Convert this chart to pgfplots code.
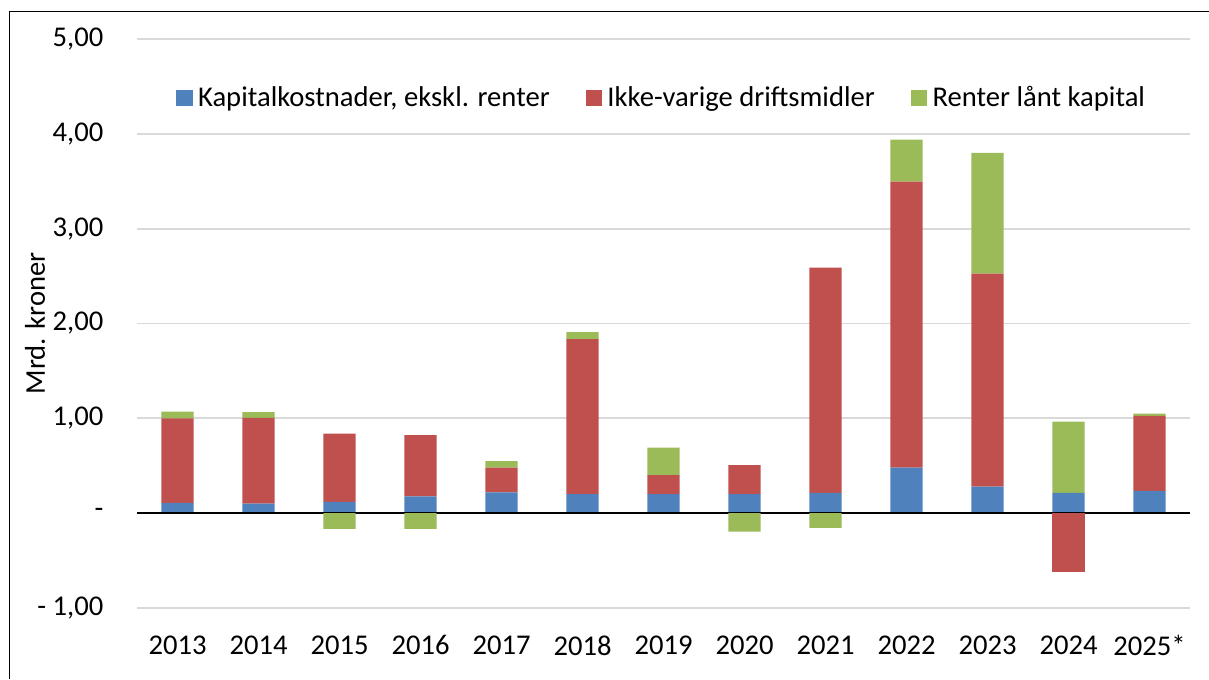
\documentclass[border=0pt]{standalone}
\usepackage{fontspec}
\setmainfont{Carlito}
\usepackage{pgfplots}
\usepackage{pgfplotstable}
\pgfplotsset{compat=1.18}
\definecolor{cblue}{HTML}{4F81BD}
\definecolor{cred}{HTML}{C0504D}
\definecolor{cgreen}{HTML}{9BBB59}
\definecolor{cgrid}{HTML}{D9D9D9}

\pgfplotstableread{
x blue  redpos greenpos redneg greenneg
0 0.110 0.890  0.070    0      0
1 0.100 0.905  0.060    0      0
2 0.120 0.720  0        0      -0.165
3 0.176 0.647  0        0      -0.165
4 0.220 0.260  0.070    0      0
5 0.200 1.635  0.075    0      0
6 0.200 0.200  0.290    0      0
7 0.200 0.306  0        0      -0.195
8 0.215 2.375  0        0      -0.155
9 0.480 3.015  0.445    0      0
10 0.280 2.245 1.275    0      0
11 0.215 0     0.750    -0.620 0
12 0.235 0.792 0.023    0      0
}\data

\pgfplotsset{
  sqlegend/.style={legend image code/.code={\fill[##1] (0pt,-2.9pt) rectangle (5.8pt,2.9pt);}},
  myaxis/.style={scale only axis, width=379.08pt, height=204.84pt,
    at={(49.32pt,25.56pt)}, anchor=south west,
    xmin=-0.5, xmax=12.5, ymin=-1, ymax=5,
    ybar stacked, bar width=11.6pt},
}

\begin{document}
\begin{tikzpicture}[font=\fontsize{10.3}{12}\selectfont]
\useasboundingbox (0,0) rectangle (435.24pt,244.44pt);
\draw[black, line width=0.5pt] (3.5pt,0) -- (3.5pt,240.3pt) -- (435.24pt,240.3pt);
\begin{axis}[myaxis,
  axis line style={draw=none},
  tick style={draw=none},
  major tick length=0pt,
  ytick={-1,0,1,2,3,4,5},
  yticklabels={{- 1,00},{-},{1,00},{2,00},{3,00},{4,00},{5,00}},
  xtick={0,1,2,3,4,5,6,7,8,9,10,11,12},
  xticklabels={2013,2014,2015,2016,2017,2018,2019,2020,2021,2022,2023,2024,2025*},
  yticklabel style={anchor=east, xshift=-8.6pt},
  xticklabel style={anchor=north, yshift=-6.4pt},
  ymajorgrids, grid style={cgrid, line width=0.7pt},
  ylabel={Mrd. kroner},
  ylabel style={at={(axis description cs:-0.0968,0.5)}, anchor=center},
  legend style={at={(0.5,0.896)}, anchor=center, draw=none, fill=none,
    legend columns=3,
    /tikz/every even column/.append style={column sep=11pt}},
  legend cell align=left,
]
\addplot[fill=cblue, draw=none, sqlegend] table[x=x, y=blue]{\data};
\addlegendentry{Kapitalkostnader, ekskl. renter}
\addplot[fill=cred, draw=none, sqlegend] table[x=x, y=redpos]{\data};
\addlegendentry{Ikke-varige driftsmidler}
\addplot[fill=cgreen, draw=none, sqlegend] table[x=x, y=greenpos]{\data};
\addlegendentry{Renter lånt kapital}
\end{axis}
\begin{axis}[myaxis, hide axis]
\addplot[fill=cred, draw=none] table[x=x, y=redneg]{\data};
\addplot[fill=cgreen, draw=none] table[x=x, y=greenneg]{\data};
\draw[black, line width=0.9pt] (axis cs:-0.5,0) -- (axis cs:12.5,0);
\end{axis}
\end{tikzpicture}
\end{document}
